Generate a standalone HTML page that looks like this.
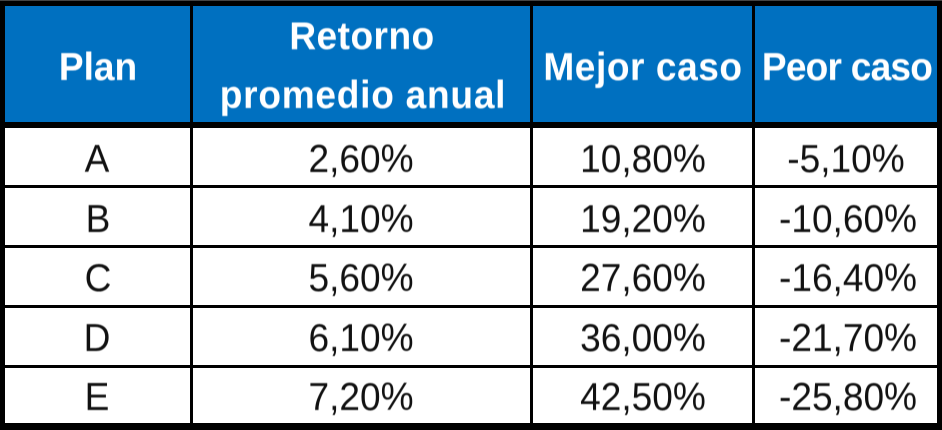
<!DOCTYPE html>
<html lang="es">
<head>
<meta charset="utf-8">
<title>Planes de retorno</title>
<style>
html,body{margin:0;padding:0;background:#000}
#t{position:relative;width:942px;height:430px;background:#000;overflow:hidden;font-family:"Liberation Sans",sans-serif}
.c{position:absolute}
.h{background:#0070c0}
.b{background:#fff}
.x{position:absolute;transform:translateX(-50%) scaleX(.95);white-space:nowrap;height:60px;line-height:60px;font-size:39px;color:#111;filter:blur(.4px)}
.w{color:#fff;font-weight:bold}
</style>
</head>
<body>
<div id="t">
<div class="c" style="left:0;top:0;width:942px;height:1px;background:#444"></div>
<div class="c h" style="left:5px;top:6px;width:185px;height:116px"></div>
<div class="c h" style="left:193px;top:6px;width:337px;height:116px"></div>
<div class="c h" style="left:533px;top:6px;width:219px;height:116px"></div>
<div class="c h" style="left:755px;top:6px;width:182px;height:116px"></div>

<div class="c b" style="left:5px;top:128px;width:185px;height:57px"></div>
<div class="c b" style="left:193px;top:128px;width:337px;height:57px"></div>
<div class="c b" style="left:533px;top:128px;width:219px;height:57px"></div>
<div class="c b" style="left:755px;top:128px;width:182px;height:57px"></div>

<div class="c b" style="left:5px;top:188px;width:185px;height:57px"></div>
<div class="c b" style="left:193px;top:188px;width:337px;height:57px"></div>
<div class="c b" style="left:533px;top:188px;width:219px;height:57px"></div>
<div class="c b" style="left:755px;top:188px;width:182px;height:57px"></div>

<div class="c b" style="left:5px;top:248px;width:185px;height:57px"></div>
<div class="c b" style="left:193px;top:248px;width:337px;height:57px"></div>
<div class="c b" style="left:533px;top:248px;width:219px;height:57px"></div>
<div class="c b" style="left:755px;top:248px;width:182px;height:57px"></div>

<div class="c b" style="left:5px;top:308px;width:185px;height:57px"></div>
<div class="c b" style="left:193px;top:308px;width:337px;height:57px"></div>
<div class="c b" style="left:533px;top:308px;width:219px;height:57px"></div>
<div class="c b" style="left:755px;top:308px;width:182px;height:57px"></div>

<div class="c b" style="left:5px;top:368px;width:185px;height:55px"></div>
<div class="c b" style="left:193px;top:368px;width:337px;height:55px"></div>
<div class="c b" style="left:533px;top:368px;width:219px;height:55px"></div>
<div class="c b" style="left:755px;top:368px;width:182px;height:55px"></div>

<div class="x w" style="left:98px;top:38px">Plan</div>
<div class="x w" style="left:362px;top:7px;letter-spacing:.5px">Retorno</div>
<div class="x w" style="left:363px;top:66px;letter-spacing:.8px">promedio anual</div>
<div class="x w" style="left:643px;top:38px;letter-spacing:.6px">Mejor caso</div>
<div class="x w" style="left:847px;top:38px;letter-spacing:-.8px">Peor caso</div>

<div class="x" style="left:97px;top:130px">A</div>
<div class="x" style="left:361px;top:130px">2,60%</div>
<div class="x" style="left:643px;top:130px">10,80%</div>
<div class="x" style="left:846px;top:130px">-5,10%</div>

<div class="x" style="left:98px;top:190px">B</div>
<div class="x" style="left:361px;top:190px">4,10%</div>
<div class="x" style="left:643px;top:190px">19,20%</div>
<div class="x" style="left:848px;top:190px">-10,60%</div>

<div class="x" style="left:98px;top:249px">C</div>
<div class="x" style="left:361px;top:249px">5,60%</div>
<div class="x" style="left:643px;top:249px">27,60%</div>
<div class="x" style="left:848px;top:249px">-16,40%</div>

<div class="x" style="left:97px;top:309px">D</div>
<div class="x" style="left:361px;top:309px">6,10%</div>
<div class="x" style="left:643px;top:309px">36,00%</div>
<div class="x" style="left:848px;top:309px">-21,70%</div>

<div class="x" style="left:97px;top:368px">E</div>
<div class="x" style="left:361px;top:368px">7,20%</div>
<div class="x" style="left:643px;top:368px">42,50%</div>
<div class="x" style="left:848px;top:368px">-25,80%</div>
</div>
</body>
</html>
